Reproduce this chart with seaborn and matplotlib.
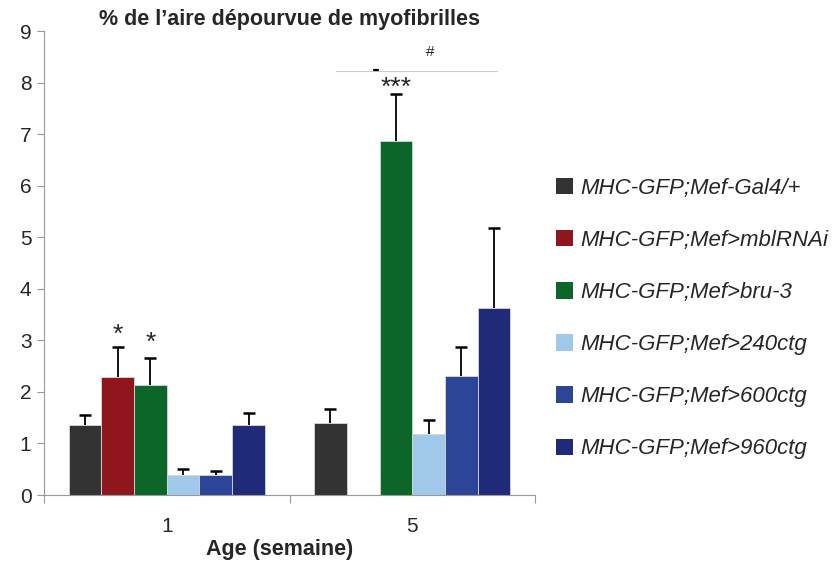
import numpy as np
import pandas as pd
import seaborn as sns
import matplotlib.pyplot as plt
from matplotlib.patches import Patch

sns.set_theme(style="white")
plt.rcParams['font.family'] = ['Liberation Sans', 'DejaVu Sans']

ages = ["1", "5"]
genotypes = [
    "MHC-GFP;Mef-Gal4/+",
    "MHC-GFP;Mef>mblRNAi",
    "MHC-GFP;Mef>bru-3",
    "MHC-GFP;Mef>240ctg",
    "MHC-GFP;Mef>600ctg",
    "MHC-GFP;Mef>960ctg",
]
colors = ["#333333", "#8E161C", "#0D6629", "#A0C8E8", "#2C4596", "#1F2A78"]

# mean % area without myofibrils, per genotype, for week 1 and week 5
week1_mean = [1.36, 2.28, 2.14, 0.38, 0.38, 1.36]
week5_mean = [1.40, np.nan, 6.87, 1.19, 2.31, 3.62]
# upper error (SEM)
week1_err = [0.20, 0.60, 0.52, 0.12, 0.09, 0.23]
week5_err = [0.27, np.nan, 0.90, 0.26, 0.57, 1.55]

rows = []
for age, means, errs in [("1", week1_mean, week1_err), ("5", week5_mean, week5_err)]:
    for g, m, e in zip(genotypes, means, errs):
        rows.append({"age": age, "genotype": g, "value": m, "err": e})
df = pd.DataFrame(rows)

fig = plt.figure(figsize=(8.36, 5.62), dpi=100)
ax = fig.add_axes([0.0526, 0.1192, 0.5874, 0.8256])

sns.barplot(data=df.dropna(), x="age", y="value", hue="genotype",
            order=ages, hue_order=genotypes, palette=colors, saturation=1,
            width=0.8, errorbar=None, edgecolor="#d8d8d8", linewidth=0.6,
            legend=False, ax=ax)

# one-sided error bars on top of each bar (upper cap only)
bar_containers = list(ax.containers)
for gi, container in enumerate(bar_containers):
    g = genotypes[gi]
    sub = df[df.genotype == g].set_index("age")
    for bar in container:
        h = bar.get_height()
        if not np.isfinite(h) or h == 0:
            continue
        xc = bar.get_x() + bar.get_width() / 2
        age = ages[int(round(xc))]
        e = sub.loc[age, "err"]
        _, caps, _ = ax.errorbar(xc, h, yerr=[[0], [e]], fmt="none",
                                 ecolor="black", elinewidth=1.3, capsize=4.5,
                                 capthick=1.8, zorder=3)
        caps[0].set_visible(False)

# significance marks
def bar_center(gi, ai):
    return ai - 0.4 + 0.8 / 6 * (gi + 0.5)

ax.text(bar_center(1, 0), 3.1, "*", ha="center", va="center", fontsize=19)
ax.text(bar_center(2, 0), 2.96, "*", ha="center", va="center", fontsize=19)
ax.text(bar_center(2, 1), 7.9, "***", ha="center", va="center", fontsize=19)
ax.plot([0.689, 1.345], [8.22, 8.22], color="#cccccc", lw=0.8, clip_on=False)
ax.plot([0.845, 0.862], [8.25, 8.25], color="black", lw=1.6, clip_on=False)
ax.text(1.072, 8.6, "#", ha="center", va="center", fontsize=11)

ax.set_ylim(0, 9)
ax.set_xlim(-0.5, 1.5)
ax.set_yticks(range(10))
ax.set_xticks([0, 1])
ax.set_xticklabels(ages)
ax.set_xticks([-0.5, 0.5, 1.5], minor=True)
ax.tick_params(axis="x", which="major", length=0, pad=16, labelsize=15)
ax.tick_params(axis="x", which="minor", length=6, color="#999999", width=0.8, bottom=True)
ax.tick_params(axis="y", which="major", length=5, color="#999999", width=0.8,
               labelsize=15, left=True, pad=4)
for s in ["top", "right"]:
    ax.spines[s].set_visible(False)
for s in ["left", "bottom"]:
    ax.spines[s].set_color("#999999")
    ax.spines[s].set_linewidth(0.8)

ax.set_ylabel("")
ax.set_xlabel("Age (semaine)", fontsize=15.5, fontweight="bold")
ax.xaxis.set_label_coords(0.48, -0.095)
ax.set_title("% de l\u2019aire dépourvue de myofibrilles", fontsize=15.5,
             fontweight="bold", pad=4)

handles = [Patch(facecolor=c, edgecolor="none") for c in colors]
leg = fig.legend(handles, genotypes, loc="upper left",
                 bbox_to_anchor=(0.641, 0.719), frameon=False,
                 prop={"style": "italic", "size": 16},
                 labelspacing=1.4, handlelength=0.75, handleheight=0.75,
                 handletextpad=0.35)

fig.savefig("out.png", dpi=100)
